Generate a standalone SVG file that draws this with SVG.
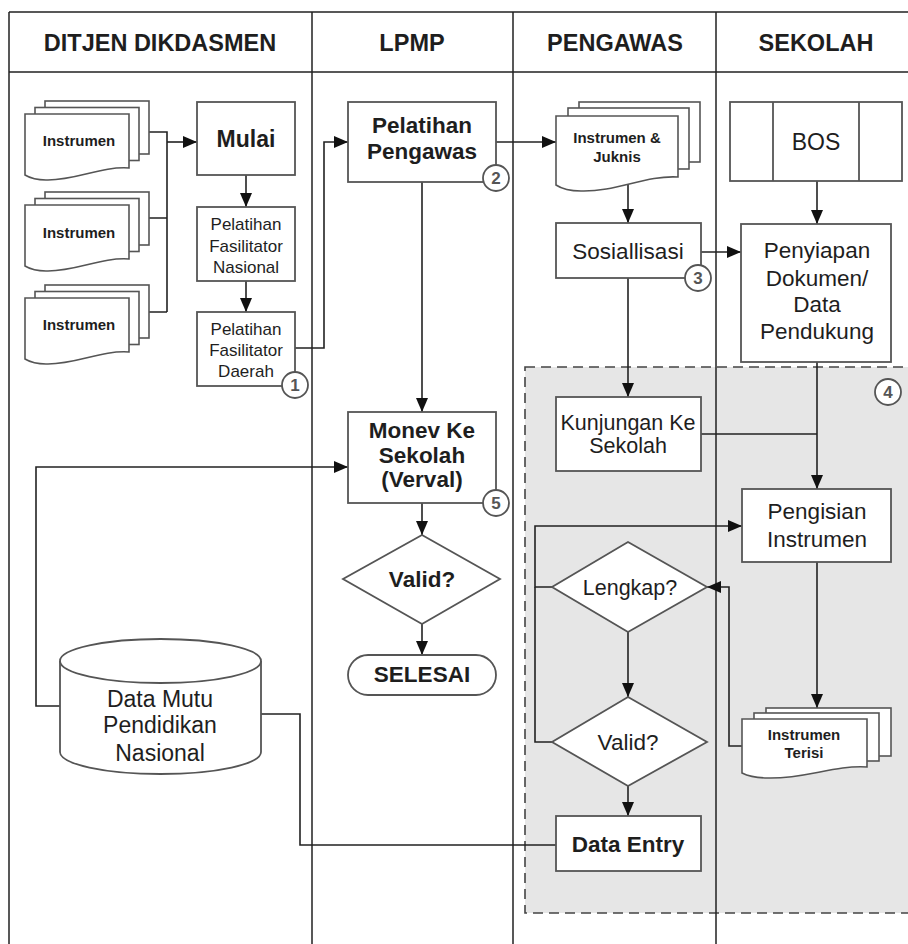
<svg xmlns="http://www.w3.org/2000/svg" width="908" height="944" viewBox="0 0 908 944">
<style>
text{font-family:"Liberation Sans",Arial,sans-serif;fill:#1e1e1e;text-anchor:middle}
.hd{font-size:23.5px;font-weight:bold}
.b{font-weight:bold}
.box{fill:#fff;stroke:#555;stroke-width:1.8}
.sheet{fill:#fff;stroke:#555;stroke-width:1.6}
.lane{stroke:#222;stroke-width:1.5;fill:none}
.con{stroke:#222;stroke-width:1.6;fill:none}
.num{fill:#fff;stroke:#555;stroke-width:1.8}
.numt{font-size:17px;font-weight:bold;fill:#555}
.doct{font-size:15px;font-weight:bold}
</style>
<defs>
<marker id="ah" viewBox="0 0 14 12" refX="14" refY="6" markerWidth="14" markerHeight="12" markerUnits="userSpaceOnUse" orient="auto">
<path d="M0,0 L14,6 L0,12 z" fill="#111"/>
</marker>
</defs>
<rect width="908" height="944" fill="#fff"/>
<g id="region4">
<rect x="525" y="367" width="400" height="546" fill="#e6e6e6" stroke="#444" stroke-width="1.6" stroke-dasharray="10 6"/>
</g>
<g id="lanes">
<path class="lane" d="M9,12 H908 M9,72 H908 M9,12 V944 M312,12 V944 M513,12 V944 M716,12 V944"/>
<text class="hd" x="160" y="51">DITJEN DIKDASMEN</text>
<text class="hd" x="412" y="51">LPMP</text>
<text class="hd" x="615" y="51">PENGAWAS</text>
<text class="hd" x="816" y="51">SEKOLAH</text>
</g>
<g id="connectors">
<path class="con" d="M149,132 H167 V312 M149,218 H167 M149,312 H167"/>
<path class="con" d="M167,142 H197" marker-end="url(#ah)"/>
<path class="con" d="M246,175 V207" marker-end="url(#ah)"/>
<path class="con" d="M246,281 V312" marker-end="url(#ah)"/>
<path class="con" d="M295,348 H324 V142 H348" marker-end="url(#ah)"/>
<path class="con" d="M496,142 H556" marker-end="url(#ah)"/>
<path class="con" d="M422,182 V412" marker-end="url(#ah)"/>
<path class="con" d="M628,184 V223" marker-end="url(#ah)"/>
<path class="con" d="M701,252 H741" marker-end="url(#ah)"/>
<path class="con" d="M817,181 V224" marker-end="url(#ah)"/>
<path class="con" d="M628,278 V397" marker-end="url(#ah)"/>
<path class="con" d="M817,362 V489" marker-end="url(#ah)"/>
<path class="con" d="M701,434 H817"/>
<path class="con" d="M552,587 H535 V526 H742" marker-end="url(#ah)"/>
<path class="con" d="M552,742 H535 V587"/>
<path class="con" d="M628,632 V697" marker-end="url(#ah)"/>
<path class="con" d="M628,786 V816" marker-end="url(#ah)"/>
<path class="con" d="M817,562 V708" marker-end="url(#ah)"/>
<path class="con" d="M742,746 H729 V587 H707" marker-end="url(#ah)"/>
<path class="con" d="M422,503 V535" marker-end="url(#ah)"/>
<path class="con" d="M422,624 V655" marker-end="url(#ah)"/>
<path class="con" d="M61,706 H36 V467 H348" marker-end="url(#ah)"/>
<path class="con" d="M261,714 H300 V845 H556"/>
</g>
<g id="instrumen1">
<rect class="sheet" x="45" y="101" width="104" height="53"/>
<rect class="sheet" x="35" y="107.5" width="104" height="53"/>
<path class="sheet" d="M25,114 H129 V168 C101,166 75,181 46,180 C37,180 30,178 25,175 Z"/>
<text class="doct" x="79" y="146">Instrumen</text>
</g>
<g id="instrumen2">
<rect class="sheet" x="45" y="192" width="104" height="53"/>
<rect class="sheet" x="35" y="198.5" width="104" height="53"/>
<path class="sheet" d="M25,205 H129 V259 C101,257 75,272 46,271 C37,271 30,269 25,266 Z"/>
<text class="doct" x="79" y="238">Instrumen</text>
</g>
<g id="instrumen3">
<rect class="sheet" x="45" y="285" width="104" height="53"/>
<rect class="sheet" x="35" y="291.5" width="104" height="53"/>
<path class="sheet" d="M25,298 H129 V352 C101,350 75,365 46,364 C37,364 30,362 25,359 Z"/>
<text class="doct" x="79" y="330">Instrumen</text>
</g>
<g id="mulai">
<rect class="box" x="197" y="102" width="98" height="73"/>
<text class="b" x="246" y="147" font-size="23">Mulai</text>
</g>
<g id="fasil-nasional">
<rect class="box" x="197" y="207" width="98" height="74"/>
<text x="246" y="230" font-size="17">Pelatihan</text>
<text x="246" y="252" font-size="17">Fasilitator</text>
<text x="246" y="273" font-size="17">Nasional</text>
</g>
<g id="fasil-daerah">
<rect class="box" x="197" y="312" width="98" height="74"/>
<text x="246" y="335" font-size="17">Pelatihan</text>
<text x="246" y="356" font-size="17">Fasilitator</text>
<text x="246" y="377" font-size="17">Daerah</text>
<circle class="num" cx="295" cy="385" r="13"/>
<text class="numt" x="295" y="391">1</text>
</g>
<g id="pelatihan-pengawas">
<rect class="box" x="348" y="102" width="148" height="80"/>
<text class="b" x="422" y="133" font-size="22.5">Pelatihan</text>
<text class="b" x="422" y="159" font-size="22.5">Pengawas</text>
<circle class="num" cx="496" cy="178" r="13"/>
<text class="numt" x="496" y="184">2</text>
</g>
<g id="monev">
<rect class="box" x="348" y="412" width="148" height="91"/>
<text class="b" x="422" y="438" font-size="22.5">Monev Ke</text>
<text class="b" x="422" y="463" font-size="22.5">Sekolah</text>
<text class="b" x="422" y="487" font-size="22.5">(Verval)</text>
<circle class="num" cx="496" cy="503" r="13"/>
<text class="numt" x="496" y="509">5</text>
</g>
<g id="valid-lpmp">
<path class="box" d="M422,535 L500,579 L422,624 L343,579 Z"/>
<text class="b" x="422" y="587" font-size="22.5">Valid?</text>
</g>
<g id="selesai">
<rect class="box" x="348" y="655" width="148" height="40" rx="20"/>
<text class="b" x="422" y="682" font-size="22.5">SELESAI</text>
</g>
<g id="database">
<path class="box" d="M60,661 V752 A100.5,22 0 0 0 261,752 V661"/>
<ellipse class="box" cx="160.5" cy="661" rx="100.5" ry="22"/>
<text x="160" y="707" font-size="23">Data Mutu</text>
<text x="160" y="733" font-size="23">Pendidikan</text>
<text x="160" y="761" font-size="23">Nasional</text>
</g>
<g id="instrumen-juknis">
<rect class="sheet" x="579" y="102" width="121" height="60"/>
<rect class="sheet" x="568" y="108" width="121" height="61"/>
<path class="sheet" d="M556,116 H678 V177 C646,175 616,192 581,191 C570,191 562,189 556,185 Z"/>
<text class="doct" x="617" y="143">Instrumen &amp;</text>
<text class="doct" x="617" y="162">Juknis</text>
</g>
<g id="sosialisasi">
<rect class="box" x="556" y="223" width="145" height="55"/>
<text x="628" y="259" font-size="22.5">Sosiallisasi</text>
<circle class="num" cx="698" cy="278" r="13"/>
<text class="numt" x="698" y="284">3</text>
</g>
<g id="bos">
<rect class="box" x="730" y="102" width="172" height="79"/>
<path class="box" d="M773,102 V181 M859,102 V181"/>
<text x="816" y="150" font-size="23">BOS</text>
</g>
<g id="penyiapan">
<rect class="box" x="741" y="224" width="150" height="138"/>
<text x="817" y="258" font-size="22.5">Penyiapan</text>
<text x="817" y="286" font-size="22.5">Dokumen/</text>
<text x="817" y="312" font-size="22.5">Data</text>
<text x="817" y="339" font-size="22.5">Pendukung</text>
</g>
<g id="num4">
<circle class="num" cx="888" cy="392" r="13"/>
<text class="numt" x="888" y="398">4</text>
</g>
<g id="kunjungan">
<rect class="box" x="556" y="397" width="145" height="74"/>
<text x="628" y="430" font-size="21.5">Kunjungan Ke</text>
<text x="628" y="453" font-size="21.5">Sekolah</text>
</g>
<g id="pengisian">
<rect class="box" x="742" y="489" width="149" height="73"/>
<text x="817" y="519" font-size="22.5">Pengisian</text>
<text x="817" y="547" font-size="22.5">Instrumen</text>
</g>
<g id="lengkap">
<path class="box" d="M628,542 L707,587 L628,632 L552,587 Z"/>
<text x="630" y="595" font-size="21.5">Lengkap?</text>
</g>
<g id="valid-pengawas">
<path class="box" d="M628,697 L707,742 L628,786 L552,742 Z"/>
<text x="628" y="750" font-size="22.5">Valid?</text>
</g>
<g id="data-entry">
<rect class="box" x="556" y="816" width="145" height="55"/>
<text class="b" x="628" y="852" font-size="22.5">Data Entry</text>
</g>
<g id="instrumen-terisi">
<rect class="sheet" x="766" y="708" width="125" height="48"/>
<rect class="sheet" x="754" y="713" width="125" height="48"/>
<path class="sheet" d="M742,719 H867 V767 C834,765 805,779 768,778 C756,778 748,776 742,773 Z"/>
<text class="doct" x="804" y="740">Instrumen</text>
<text class="doct" x="804" y="758">Terisi</text>
</g>
</svg>
